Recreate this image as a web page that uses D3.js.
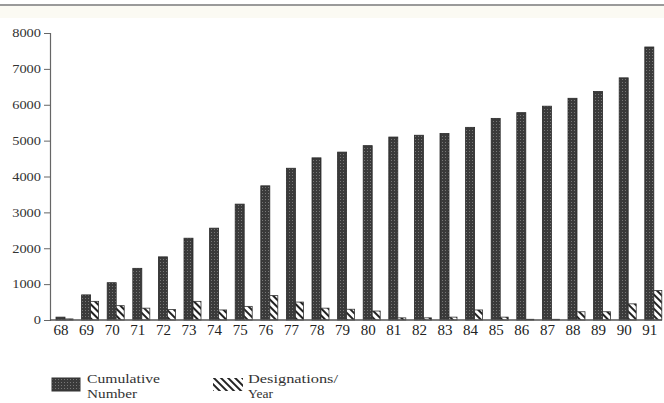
<!DOCTYPE html>
<html>
<head>
<meta charset="utf-8">
<script src="https://cdn.jsdelivr.net/npm/d3@7/dist/d3.min.js"></script>
<style>
  html, body { margin: 0; padding: 0; background: #fff; }
  svg { display: block; }
</style>
</head>
<body>
<svg id="chart" width="664" height="403"></svg>
<script>
// ---- data ----
const years = ["68","69","70","71","72","73","74","75","76","77","78","79","80","81","82","83","84","85","86","87","88","89","90","91"];
const cumulative = [80, 700, 1040, 1440, 1760, 2280, 2560, 3230, 3740, 4230, 4520, 4680, 4860, 5100, 5150, 5200, 5370, 5620, 5780, 5960, 6180, 6370, 6750, 7610];
const perYear = [30, 520, 400, 330, 290, 520, 280, 380, 680, 500, 330, 300, 250, 60, 60, 80, 280, 80, 20, 20, 230, 230, 450, 820];
const yTicks = [0, 1000, 2000, 3000, 4000, 5000, 6000, 7000, 8000];
const seriesNames = [["Cumulative", "Number"], ["Designations/", "Year"]];

// ---- layout ----
const svg = d3.select("#chart");
const W = 664, H = 403;
const x0 = 50, x1 = 662, yTop = 33, yBot = 320;

const defs = svg.append("defs");
// stippled dark fill
const pd = defs.append("pattern").attr("id", "dots").attr("patternUnits", "userSpaceOnUse")
  .attr("width", 3).attr("height", 3);
pd.append("rect").attr("width", 3).attr("height", 3).attr("fill", "#3a3a3a");
pd.append("rect").attr("x", 1).attr("y", 1).attr("width", 1).attr("height", 1).attr("fill", "#777");
// diagonal hatch
const ph = defs.append("pattern").attr("id", "hatch").attr("patternUnits", "userSpaceOnUse")
  .attr("width", 5).attr("height", 5).attr("patternTransform", "rotate(45)");
ph.append("rect").attr("width", 5).attr("height", 5).attr("fill", "#fff");
ph.append("rect").attr("width", 5).attr("height", 2).attr("fill", "#222");

// scan edge at top
svg.append("rect").attr("x", 0).attr("y", 4).attr("width", W).attr("height", 2).attr("fill", "#9a9a9a");
svg.append("rect").attr("x", 0).attr("y", 6).attr("width", W).attr("height", 12).attr("fill", "#fbfaf3");

const x = d3.scaleBand().domain(years).range([48.2, 48.2 + 25.6 * years.length]).padding(0);
const y = d3.scaleLinear().domain([0, 8000]).range([yBot, yTop]);

// y axis
const yAxis = svg.append("g").attr("transform", `translate(${x0},0)`)
  .call(d3.axisLeft(y).tickValues(yTicks).tickSize(6).tickPadding(3).tickFormat(d3.format("d")));
yAxis.select(".domain").attr("stroke", "#666").attr("stroke-width", 1.2);
yAxis.selectAll(".tick line").attr("stroke", "#666");
yAxis.selectAll("text").attr("font-family", "Liberation Serif, serif").attr("font-size", 12)
  .attr("fill", "#333")
  .attr("textLength", d => String(d).length * 7.2).attr("lengthAdjust", "spacingAndGlyphs");

// bars
const bw1 = 9, bw2 = 8;
svg.append("g").selectAll("rect").data(years).join("rect")
  .attr("x", d => x(d) + x.bandwidth() / 2 - 5)
  .attr("y", (d, i) => y(cumulative[i]))
  .attr("width", bw1)
  .attr("height", (d, i) => yBot - y(cumulative[i]))
  .attr("fill", "url(#dots)").attr("stroke", "#2a2a2a").attr("stroke-width", 0.8);

svg.append("g").selectAll("rect").data(years).join("rect")
  .attr("x", d => x(d) + x.bandwidth() / 2 + 4)
  .attr("y", (d, i) => y(perYear[i]))
  .attr("width", bw2)
  .attr("height", (d, i) => yBot - y(perYear[i]))
  .attr("fill", "url(#hatch)").attr("stroke", "#333").attr("stroke-width", 0.8);

// x axis
const xAxis = svg.append("g").attr("transform", `translate(0,${yBot})`)
  .call(d3.axisBottom(x).tickSize(0).tickPadding(4));
xAxis.select(".domain").attr("stroke", "#555").attr("stroke-width", 1.5).attr("d", `M${x0},0H${x1}`);
xAxis.selectAll("text").attr("font-family", "Liberation Serif, serif").attr("font-size", 15)
  .attr("fill", "#222");

// legend
const lg = svg.append("g").attr("font-family", "Liberation Serif, serif").attr("font-size", 12).attr("fill", "#333");
const legendX = [52, 213];
const legendFill = ["url(#dots)", "url(#hatch)"];
const textLens = [[73, 50], [90, 25]];
seriesNames.forEach((lines, i) => {
  lg.append("rect").attr("x", legendX[i]).attr("y", 378).attr("width", i ? 30 : 28).attr("height", 13)
    .attr("fill", legendFill[i]).attr("stroke", i ? "none" : "#333");
  lines.forEach((t, j) => {
    lg.append("text").attr("x", legendX[i] + (i ? 35 : 35)).attr("y", 383 + j * 15).text(t)
      .attr("textLength", textLens[i][j]).attr("lengthAdjust", "spacingAndGlyphs");
  });
});
</script>
</body>
</html>
